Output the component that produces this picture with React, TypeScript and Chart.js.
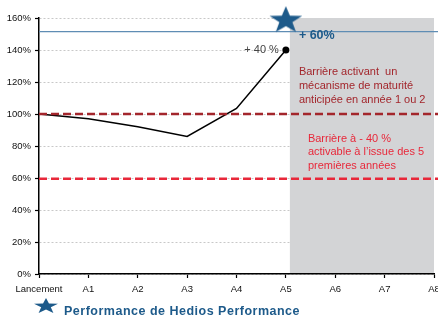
import React, { useEffect, useRef } from "react";
import { Chart, registerables } from "chart.js";

Chart.register(...registerables);

const categories = ["Lancement", "A1", "A2", "A3", "A4", "A5", "A6", "A7", "A8"];
const performance = [100, 97, 92, 86, 103.5, 140];
const starValue = 158.5;
const starIndex = 5;
const capLevel = 151.5;
const earlyBarrier = 100;
const capitalBarrier = 59.5;
const yTicks = [0, 20, 40, 60, 80, 100, 120, 140, 160];

const BLUE = "#1d5a8a";
const DARK_RED = "#a3262c";
const RED = "#e8283a";
const GRAY = "#d3d4d6";
const FONT = "'Liberation Sans', Arial, sans-serif";

function starPath(ctx: CanvasRenderingContext2D, cx: number, cy: number, R: number, r: number, sx: number) {
  ctx.beginPath();
  for (let i = 0; i < 10; i++) {
    const a = -Math.PI / 2 + (i * Math.PI) / 5;
    const rad = i % 2 === 0 ? R : r;
    const x = cx + Math.cos(a) * rad * sx;
    const y = cy + Math.sin(a) * rad;
    if (i === 0) ctx.moveTo(x, y);
    else ctx.lineTo(x, y);
  }
  ctx.closePath();
}

function makeStar(R: number, sx: number) {
  const c = document.createElement("canvas");
  c.width = 2 * Math.ceil(R * sx) + 4;
  c.height = 2 * Math.ceil(R) + 4;
  const ctx = c.getContext("2d")!;
  ctx.fillStyle = BLUE;
  starPath(ctx, c.width / 2, c.height / 2, R, R * 0.4, sx);
  ctx.fill();
  return c;
}

const overlayPlugin = {
  id: "overlay",
  beforeDatasetsDraw(chart: any) {
    const { ctx, chartArea } = chart;
    const x = chart.scales.x;
    const y = chart.scales.y;
    const xA5 = x.getPixelForValue(starIndex);
    ctx.save();
    ctx.fillStyle = GRAY;
    ctx.fillRect(xA5 + 4, chartArea.top, chartArea.right - xA5 - 4, chartArea.bottom - chartArea.top - 1);
    ctx.strokeStyle = "#5f8db4";
    ctx.lineWidth = 1.3;
    const yc = y.getPixelForValue(capLevel);
    ctx.beginPath();
    ctx.moveTo(chartArea.left, yc);
    ctx.lineTo(chartArea.right + 4, yc);
    ctx.stroke();
    ctx.restore();
  },
  afterDatasetsDraw(chart: any) {
    const { ctx, chartArea } = chart;
    const x = chart.scales.x;
    const y = chart.scales.y;
    const xA5 = x.getPixelForValue(starIndex);
    ctx.save();
    ctx.lineWidth = 2.5;
    ctx.setLineDash([8, 4]);
    ctx.strokeStyle = DARK_RED;
    const y1 = y.getPixelForValue(earlyBarrier);
    ctx.beginPath();
    ctx.moveTo(chartArea.left, y1);
    ctx.lineTo(chartArea.right + 4, y1);
    ctx.stroke();
    ctx.strokeStyle = RED;
    const y2 = y.getPixelForValue(capitalBarrier);
    ctx.beginPath();
    ctx.moveTo(chartArea.left, y2);
    ctx.lineTo(chartArea.right + 4, y2);
    ctx.stroke();
    ctx.setLineDash([]);

    const yc = y.getPixelForValue(capLevel);
    ctx.textAlign = "left";
    ctx.textBaseline = "alphabetic";
    ctx.fillStyle = BLUE;
    ctx.font = `bold 12.5px ${FONT}`;
    ctx.fillText("+ 60%", xA5 + 13, yc + 7.5);

    ctx.fillStyle = "#444";
    ctx.font = `11px ${FONT}`;
    ctx.textAlign = "right";
    ctx.textBaseline = "middle";
    ctx.fillText("+ 40 %", xA5 - 7, y.getPixelForValue(performance[5]));

    ctx.textAlign = "left";
    ctx.textBaseline = "alphabetic";
    ctx.fillStyle = DARK_RED;
    const dr = ["Barrière activant  un", "mécanisme de maturité", "anticipée en année 1 ou 2"];
    const b1 = y.getPixelForValue(124.2);
    dr.forEach((t, i) => ctx.fillText(t, xA5 + 13, b1 + i * 14));

    ctx.fillStyle = RED;
    const rd = ["Barrière à - 40 %", "activable à l’issue des 5", "premières années"];
    const b2 = y.getPixelForValue(82.7);
    rd.forEach((t, i) => ctx.fillText(t, xA5 + 22, b2 + i * 13.7));
    ctx.restore();
  },
};

export default function App() {
  const ref = useRef<HTMLCanvasElement>(null);
  useEffect(() => {
    if (!ref.current) return;
    const star = makeStar(14.3, 1.2);
    const chart = new Chart(ref.current, {
      type: "line",
      data: {
        labels: categories,
        datasets: [
          {
            label: "Performance de Hedios Performance",
            data: categories.map((_, i) => (i === starIndex ? starValue : null)),
            pointStyle: star as any,
            showLine: false,
            clip: false as any,
            pointRadius: 14,
          },
          {
            label: "Performance",
            data: performance,
            borderColor: "#000",
            borderWidth: 1.5,
            backgroundColor: "#000",
            pointRadius: performance.map((_, i) => (i === performance.length - 1 ? 3.5 : 0)),
            pointBackgroundColor: "#000",
            pointBorderWidth: 0,
            tension: 0,
          },
        ],
      },
      options: {
        responsive: false,
        animation: false,
        events: [],
        layout: { padding: { left: 0, right: 10, top: 18, bottom: 0 } },
        plugins: { legend: { display: false }, tooltip: { enabled: false } },
        scales: {
          x: {
            type: "category",
            offset: false,
            afterFit: (s: any) => {
              s.height = 26;
            },
            grid: {
              offset: false,
              drawOnChartArea: false,
              drawTicks: true,
              tickLength: 4,
              tickColor: "#000",
              tickWidth: 1.2,
            },
            border: { color: "#000", width: 1.5 },
            ticks: {
              color: "#111",
              font: { family: FONT, size: 9.5 },
              padding: 6,
              maxRotation: 0,
              autoSkip: false,
            },
          },
          y: {
            min: 0,
            max: 160,
            afterFit: (s: any) => {
              s.width = 39;
            },
            afterBuildTicks: (s: any) => {
              s.ticks = yTicks.map((v) => ({ value: v }));
            },
            grid: {
              color: "#c8c8c8",
              lineWidth: 1,
              drawTicks: true,
              tickLength: 4,
              tickColor: "#000",
              tickWidth: 1.2,
            },
            border: { color: "#000", width: 1.5, dash: [2, 2] },
            ticks: {
              color: "#111",
              font: { family: FONT, size: 9.5 },
              padding: 4,
              callback: (v: any) => `${v}%`,
            },
          },
        },
      },
      plugins: [overlayPlugin],
    });
    return () => chart.destroy();
  }, []);

  return (
    <div
      style={{
        position: "absolute",
        left: 0,
        top: 0,
        width: 438,
        height: 318,
        overflow: "hidden",
        background: "#fff",
      }}
    >
      <canvas ref={ref} width={449} height={300} style={{ display: "block", width: 449, height: 300 }} />
      <svg
        width={24}
        height={15}
        viewBox="0 0 24 15"
        preserveAspectRatio="none"
        style={{ position: "absolute", left: 34, top: 298 }}
      >
        <polygon
          fill={BLUE}
          points={Array.from({ length: 10 }, (_, i) => {
            const a = -Math.PI / 2 + (i * Math.PI) / 5;
            const rad = i % 2 === 0 ? 1 : 0.4;
            const px = 12 + Math.cos(a) * rad * 12.6;
            const py = 8.3 + Math.sin(a) * rad * 8.3;
            return `${px.toFixed(2)},${py.toFixed(2)}`;
          }).join(" ")}
        />
      </svg>
      <span
        style={{
          position: "absolute",
          left: 64,
          top: 304,
          font: `bold 12.5px ${FONT}`,
          lineHeight: "14px",
          letterSpacing: "0.5px",
          color: BLUE,
          whiteSpace: "nowrap",
        }}
      >
        Performance de Hedios Performance
      </span>
    </div>
  );
}
